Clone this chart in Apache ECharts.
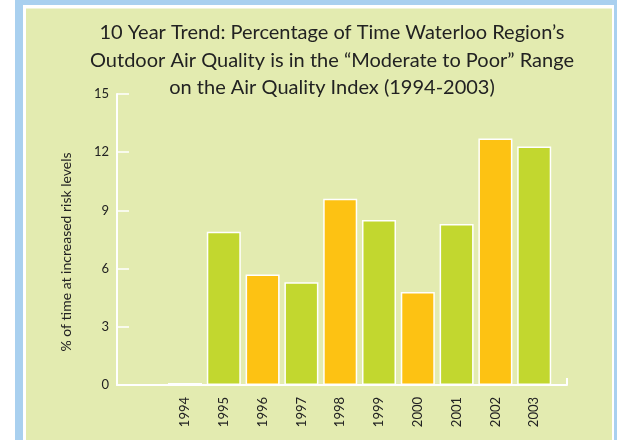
<!DOCTYPE html>
<html>
<head>
<meta charset="utf-8">
<script src="https://cdn.jsdelivr.net/npm/echarts@6/dist/echarts.min.js"></script>
<style>
  html, body { margin: 0; padding: 0; background: #fff; }
  #chart { width: 617px; height: 440px; }
</style>
</head>
<body>
<div id="chart"></div>
<script>
// data
var years = ['1994', '1995', '1996', '1997', '1998', '1999', '2000', '2001', '2002', '2003'];
var percentTime = [0.1, 7.9, 5.7, 5.3, 9.6, 8.5, 4.8, 8.3, 12.7, 12.3];
var yTicks = [0, 3, 6, 9, 12, 15];

var GREEN = '#c2d72f';
var ORANGE = '#fdc213';
var PANEL = '#e3ebb0';
var BLUE = '#a9d0ef';
var FONT = 'Lato';

var myChart = echarts.init(document.getElementById('chart'));

var option = {
  backgroundColor: '#fff',
  textStyle: { fontFamily: FONT },
  graphic: [
    // frame: blue band, thin white line, then the green panel
    { type: 'rect', z: -10, shape: { x: 15, y: 0, width: 602, height: 440 }, style: { fill: BLUE } },
    { type: 'rect', z: -9, shape: { x: 23, y: 5, width: 591, height: 435 }, style: { fill: '#fff' } },
    { type: 'rect', z: -8, shape: { x: 26, y: 8.5, width: 586, height: 432 }, style: { fill: PANEL } }
  ],
  title: {
    text: '10 Year Trend: Percentage of Time Waterloo Region\u2019s\nOutdoor Air Quality is in the \u201cModerate to Poor\u201d Range\non the Air Quality Index (1994-2003)',
    left: 327,
    top: 14,
    textAlign: 'center',
    textStyle: {
      fontFamily: FONT,
      fontSize: 20,
      fontWeight: 'normal',
      lineHeight: 27.5,
      color: '#222'
    }
  },
  grid: [
    { left: 117, right: 50, top: 94, bottom: 55 },
    { left: 165.6, right: 63.4, top: 94, bottom: 55 }
  ],
  xAxis: [
    {
      // only carries the long baseline with its little end tick
      type: 'value',
      gridIndex: 0,
      min: 0,
      max: 1,
      interval: 1,
      axisLine: { show: true, lineStyle: { color: '#fff', width: 2 } },
      axisTick: { show: true, inside: true, length: 7, lineStyle: { color: '#fff', width: 2 } },
      axisLabel: { show: false },
      splitLine: { show: false }
    },
    {
      type: 'category',
      gridIndex: 1,
      data: years,
      axisLine: { show: false },
      axisTick: { show: false },
      axisLabel: {
        rotate: 90,
        margin: 12,
        fontSize: 13,
        color: '#222',
        fontFamily: FONT
      }
    }
  ],
  yAxis: [
    {
      type: 'value',
      gridIndex: 0,
      min: yTicks[0],
      max: yTicks[yTicks.length - 1],
      interval: 3,
      name: '% of time at increased risk levels',
      nameLocation: 'middle',
      nameGap: 44,
      nameTextStyle: {
        fontSize: 14,
        color: '#222',
        fontFamily: FONT,
        padding: [0, 25, 0, 0]
      },
      axisLine: { show: true, lineStyle: { color: '#fff', width: 2 } },
      axisTick: { show: true, inside: true, length: 12, lineStyle: { color: '#fff', width: 1.5 } },
      axisLabel: { margin: 8, fontSize: 13, color: '#222', fontFamily: FONT },
      splitLine: { show: false }
    },
    {
      type: 'value',
      gridIndex: 1,
      min: yTicks[0],
      max: yTicks[yTicks.length - 1],
      show: false
    }
  ],
  series: [
    {
      type: 'bar',
      xAxisIndex: 1,
      yAxisIndex: 1,
      barWidth: 34,
      data: percentTime,
      itemStyle: {
        borderColor: '#fff',
        borderWidth: 1.5,
        color: function (p) {
          return p.dataIndex % 2 === 0 ? ORANGE : GREEN;
        }
      }
    }
  ]
};

myChart.setOption(option);
</script>
</body>
</html>
